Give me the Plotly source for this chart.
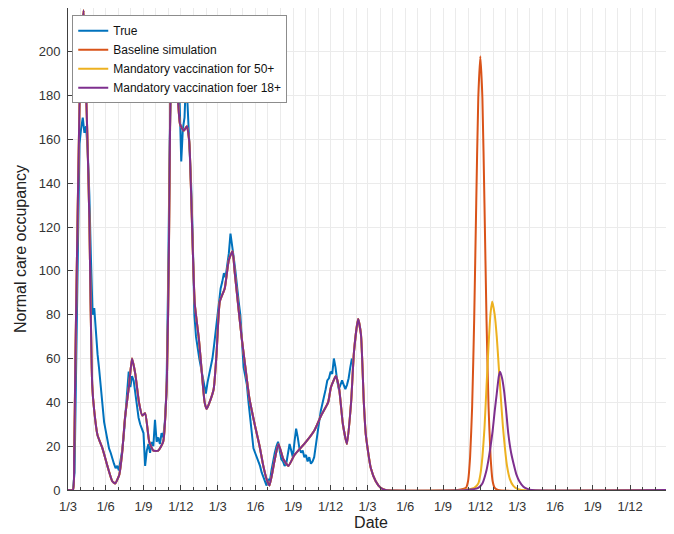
import pandas as pd
import plotly.graph_objects as go

START = pd.Timestamp("2020-03-01")

# Observed normal care occupancy, sampled every 4 days from 9 Mar 2020
true_start = "2020-03-09"
true_vals = [
    0, 0, 8, 65, 125, 158, 165, 170, 163, 166,
    155, 135, 105, 80, 83, 70, 62, 55, 47, 40,
    31, 27, 22, 19, 17, 14, 12, 10, 11, 9,
    13, 18, 25, 36, 44, 54, 47, 52, 50, 44,
    40, 33, 30, 28, 26, 11, 18, 21, 17, 22,
    20, 32, 22, 24, 21, 26, 24, 31, 45, 95,
    160, 195, 205, 198, 185, 205, 178, 150, 165, 170,
    190, 172, 160, 140, 115, 80, 70, 64, 60, 56,
    52, 48, 44, 49, 53, 56, 60, 66, 72, 80,
    86, 92, 95, 99, 97, 102, 108, 117, 110, 106,
    100, 92, 86, 80, 70, 56, 52, 48, 40, 33,
    25, 19, 17, 15, 13, 11, 8, 6, 4, 2,
    5, 4, 9, 14, 17, 20, 22, 18, 14, 13,
    11, 12, 17, 21, 18, 15, 22, 28, 24, 19,
    17, 18, 15, 16, 13, 15, 12, 13, 15, 21,
    27, 31, 36, 39, 42, 46, 50, 51, 54, 53,
    60, 56, 50, 46, 48, 50, 48, 46, 48, 51,
    56, 60,
]

# Model fit shared by all scenarios (days since 1 Mar 2020)
fit_day = [0, 12, 15, 18, 23, 28, 33, 38, 42, 47, 52, 55, 59, 64, 72, 84, 96, 108, 115,
           125, 132, 139, 149, 156, 164, 173, 181, 188, 198, 208, 220, 232, 241, 246,
           249, 253, 258, 265, 273, 282, 290, 295, 297, 302, 309, 319, 326, 333, 338,
           345, 355, 362, 370, 382, 392, 401, 406, 416, 423, 433, 442, 455, 467, 476,
           484, 491, 503, 513, 525, 537, 552, 576, 600, 617, 634, 641, 653, 661, 670,
           680, 690, 697, 707, 714, 721, 726, 738, 750, 762, 774]
fit_vals = [0, 0, 15, 60, 120, 175, 205, 219, 195, 163, 124, 86, 48, 36, 25, 19, 11, 4, 3,
            7, 17, 33, 48, 60, 53, 40, 34, 35, 22, 18, 18, 22, 50, 110,
            170, 200, 203, 188, 167, 164, 166, 160, 154, 123, 85, 69, 54, 40, 37,
            40, 46, 62, 86, 92, 105, 109, 100, 82, 70, 55, 42, 30, 20, 11,
            5, 2, 13, 21, 14, 11, 16, 21, 27, 34, 40, 47, 52, 46, 30,
            21, 40, 63, 78, 71, 40, 25, 10, 4, 1, 0]

# Future wave per scenario
base_day = [950, 970, 975, 980, 985, 990, 995, 1000, 1005, 1010, 1015, 1020, 1025, 1030, 1035, 1040, 1048]
base_vals = [0, 1, 4, 15, 38, 78, 131, 179, 198, 179, 131, 78, 38, 15, 4, 1, 0]

v50_day = [960, 990, 1000, 1005, 1010, 1015, 1020, 1025, 1030, 1034, 1040, 1045, 1050, 1055,
           1060, 1065, 1070, 1077, 1085, 1095, 1105]
v50_vals = [0, 1, 3, 7, 15, 28, 47, 66, 81, 86, 80, 70, 56, 42, 29, 19, 11, 5, 2, 0.5, 0]

v18_day = [970, 1000, 1010, 1020, 1025, 1030, 1035, 1040, 1045, 1050, 1053, 1058, 1063, 1068,
           1073, 1080, 1086, 1093, 1100, 1110, 1120, 1130]
v18_vals = [0, 1, 3, 9, 14, 20, 27, 36, 44, 52, 54, 51, 45, 36, 26, 17, 12, 7, 4, 1.5, 0.5, 0]

END_DAY = 1477

names = ["True", "Baseline simulation", "Mandatory vaccination for 50+",
         "Mandatory vaccination foer 18+"]
colors = ["#0072BD", "#D95319", "#EDB120", "#7E2F8E"]


def to_dates(days):
    return START + pd.to_timedelta(days, unit="D")


fig = go.Figure()
true_x = pd.date_range(true_start, periods=len(true_vals), freq="4D")
fig.add_trace(go.Scatter(x=true_x, y=true_vals, mode="lines", name=names[0],
                         line=dict(color=colors[0], width=2)))

for nm, col, wd, wv in [(names[1], colors[1], base_day, base_vals),
                        (names[2], colors[2], v50_day, v50_vals),
                        (names[3], colors[3], v18_day, v18_vals)]:
    days = fit_day + wd + [END_DAY]
    vals = fit_vals + wv + [0]
    fig.add_trace(go.Scatter(x=to_dates(days), y=vals, mode="lines", name=nm,
                             line=dict(color=col, width=2, shape="spline", smoothing=0.5)))

grid = "#ebebeb"
axcol = "#404040"
fig.update_layout(
    width=666, height=526,
    margin=dict(l=60, r=0, t=0, b=44),
    paper_bgcolor="white", plot_bgcolor="white",
    font=dict(family="Liberation Sans, Arial, sans-serif", size=12, color="#333333"),
    showlegend=True,
    legend=dict(x=0.007, y=0.985, xanchor="left", yanchor="top",
                bgcolor="white", bordercolor="#8c8c8c", borderwidth=1,
                font=dict(size=12, color="#111111"), itemwidth=30, tracegroupgap=0),
)
fig.update_xaxes(
    type="date", range=[START, to_dates(END_DAY)], automargin=False,
    tick0="2020-03-01", dtick="M3", tickformat="%-d/%-m",
    ticks="inside", ticklen=5, tickcolor=axcol, ticklabelstandoff=4,
    showgrid=True, gridcolor=grid, gridwidth=1,
    minor=dict(dtick="M1", ticks="inside", ticklen=3, tickcolor=axcol,
               showgrid=True, gridcolor=grid),
    showline=True, linecolor=axcol, linewidth=1, zeroline=False,
    title=dict(text="Date", font=dict(size=16, color="#222222"), standoff=4),
    tickfont=dict(size=13, color="#333333"),
)
fig.update_yaxes(
    range=[0, 220], tickvals=list(range(0, 201, 20)), automargin=False,
    ticks="inside", ticklen=5, tickcolor=axcol, ticklabelstandoff=4,
    showgrid=True, gridcolor=grid, gridwidth=1,
    showline=True, linecolor=axcol, linewidth=1, zeroline=False,
    title=dict(text="Normal care occupancy", font=dict(size=16, color="#222222"), standoff=8),
    tickfont=dict(size=13, color="#333333"),
)

fig.write_html("out.html")
